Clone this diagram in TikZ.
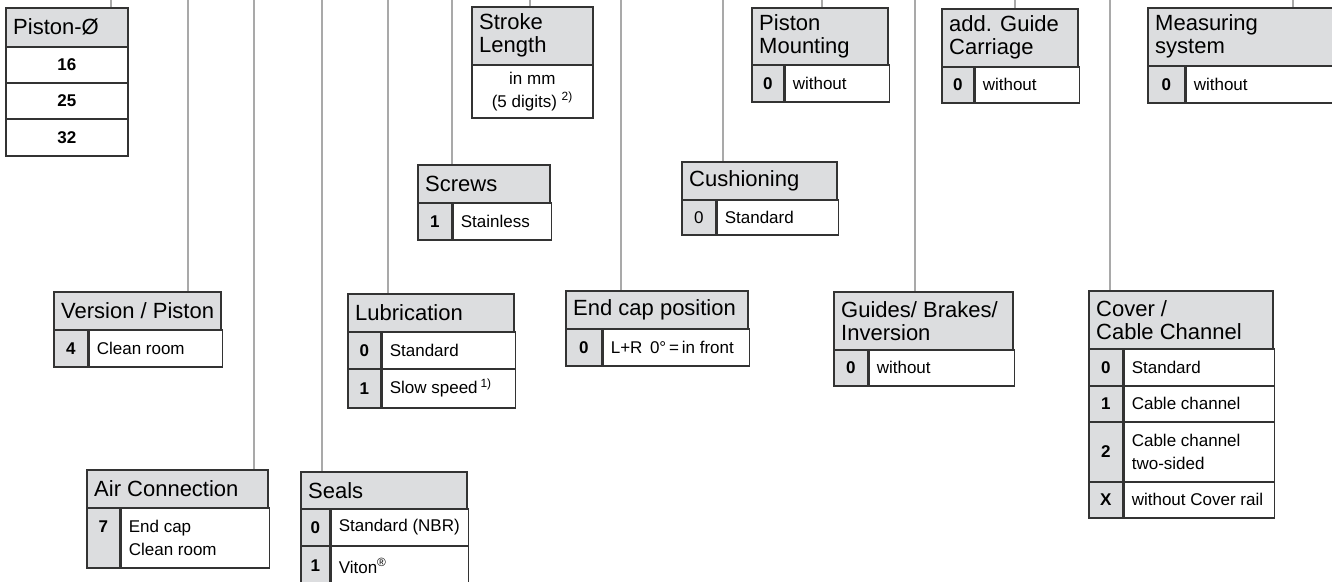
\documentclass[tikz,border=0pt]{standalone}
\usepackage{fontspec}
\setmainfont{Liberation Sans}
\usetikzlibrary{backgrounds}
\definecolor{hgray}{HTML}{DCDDDF}
\definecolor{bord}{HTML}{333333}
\definecolor{linegray}{HTML}{A9A9A9}
\newcommand\hdrfont{\fontsize{22}{23}\selectfont}
\newcommand\bodyfont{\fontsize{17}{23}\selectfont}
\tikzset{
  conn/.style={draw=linegray, line width=2.4pt},
  hdr/.style={rectangle, draw=bord, fill=hgray, line width=1.6pt, anchor=north west, inner sep=0pt},
  numc/.style={rectangle, draw=bord, fill=hgray, line width=1.6pt, anchor=north west, inner sep=0pt, font=\bodyfont\bfseries},
  txtc/.style={rectangle, draw=bord, fill=white, line width=1.6pt, anchor=north west, inner sep=0pt},
  htxt/.style={anchor=west, inner sep=0pt, font=\hdrfont, align=left},
  btxt/.style={anchor=west, inner sep=0pt, font=\bodyfont, align=left},
}
% header: name, x, y, w, h, text
\newcommand\HD[6]{%
  \node[hdr, minimum width=#4pt, minimum height=#5pt] (#1) at (#2,#3) {};
  \node[htxt] (#1l) at ([xshift=8pt]#1.west) {#6};}
% row: name, x, y, numw, textw, h, number, text
\newcommand\RW[8]{%
  \node[numc, minimum width=#4pt, minimum height=#6pt] (#1n) at (#2,#3) {#7};
  \node[txtc, minimum width=#5pt, minimum height=#6pt] (#1t) at (#1n.north east) {};
  \node[btxt] (#1l) at ([xshift=8pt]#1t.west) {#8};}
\begin{document}
\begin{tikzpicture}[x=1pt, y=-1pt]
\useasboundingbox (0,0) rectangle (1332,581);

% Piston diameter
\HD{pd}{5}{7}{122}{39}{Piston-Ø}
\node[txtc, minimum width=122pt, minimum height=36pt, font=\bodyfont\bfseries] (pd1) at (5,46) {16};
\node[txtc, minimum width=122pt, minimum height=36pt, font=\bodyfont\bfseries] (pd2) at (5,82) {25};
\node[txtc, minimum width=122pt, minimum height=37pt, font=\bodyfont\bfseries] (pd3) at (5,118) {32};

% Version / Piston
\HD{vp}{53}{291}{167}{38}{Version / Piston}
\RW{vpa}{53}{329}{34}{133}{37}{4}{Clean room}

% Air Connection
\HD{ac}{86}{469}{181}{38}{Air Connection}
\RW{aca}{86}{507}{33}{148}{60}{}{End cap\\Clean room}
\node[anchor=base, inner sep=0pt, font=\bodyfont\bfseries] (acnum) at ([yshift=-25pt]acan.north) {7};

% Seals
\HD{se}{300}{471}{166}{37}{Seals}
\RW{sea}{300}{508}{29}{137}{37}{0}{Standard (NBR)}
\RW{seb}{300}{545}{29}{137}{40}{1}{Viton\textsuperscript{®}}

% Lubrication
\HD{lu}{347}{293}{166}{38}{Lubrication}
\RW{lua}{347}{331}{33}{133}{37}{0}{Standard}
\RW{lub}{347}{368}{33}{133}{39}{1}{Slow speed\,\textsuperscript{1)}}

% Screws
\HD{sc}{417}{164}{132}{38}{Screws}
\RW{sca}{417}{202}{34}{98}{37}{1}{Stainless}

% Stroke Length
\HD{sl}{471}{6}{121}{58}{Stroke\\Length}
\node[txtc, minimum width=121pt, minimum height=53pt] (slb) at (471,64) {};
\node[inner sep=0pt, font=\bodyfont, align=center] (slbl) at (slb.center) {in mm\\(5 digits) \textsuperscript{2)}};

% End cap position
\HD{ec}{565}{290}{182}{38}{End cap position}
\RW{eca}{565}{328}{36}{146}{37}{0}{L+R\, 0°\,=\,in front}

% Cushioning
\HD{cu}{681}{161}{155}{38}{Cushioning}
\RW{cua}{681}{199}{34}{121}{35}{\mdseries 0}{Standard}

% Piston Mounting
\HD{pm}{751}{7}{136}{57}{Piston\\Mounting}
\RW{pma}{751}{64}{32}{104}{37}{0}{without}

% Guides / Brakes / Inversion
\HD{gb}{833}{291}{179}{58}{Guides/ Brakes/\\Inversion}
\RW{gba}{833}{349}{34}{145}{36}{0}{without}

% add. Guide Carriage
\HD{ag}{941}{8}{136}{58}{add. Guide\\Carriage}
\RW{aga}{941}{66}{32}{104}{36}{0}{without}

% Cover / Cable Channel
\HD{cc}{1088}{290}{184}{58}{Cover /\\Cable Channel}
\RW{cca}{1088}{348}{34}{150}{37}{0}{Standard}
\RW{ccb}{1088}{385}{34}{150}{36}{1}{Cable channel}
\RW{ccc}{1088}{421}{34}{150}{60}{2}{Cable channel\\two-sided}
\RW{ccd}{1088}{481}{34}{150}{36}{X}{without Cover rail}

% Measuring system
\HD{ms}{1147}{7}{200}{58}{Measuring\\system}
\RW{msa}{1147}{65}{37}{163}{37}{0}{without}

% connectors
\coordinate (tpd) at (111,0);
\coordinate (tvp) at (188,0);
\coordinate (tac) at (254,0);
\coordinate (tse) at (322,0);
\coordinate (tlu) at (388,0);
\coordinate (tsc) at (452,0);
\coordinate (tsl) at (530,0);
\coordinate (tec) at (621,0);
\coordinate (tcu) at (723,0);
\coordinate (tpm) at (822,0);
\coordinate (tgb) at (915,0);
\coordinate (tag) at (1015,0);
\coordinate (tcc) at (1110,0);
\coordinate (tms) at (1293,0);
\begin{pgfonlayer}{background}
\fill[white] (0,0) rectangle (1332,581);
\foreach \n in {pd,vp,ac,se,lu,sc,sl,ec,cu,pm,gb,ag,cc,ms}
  \draw[conn] (t\n) -- (t\n |- \n.north);
\end{pgfonlayer}
\end{tikzpicture}
\end{document}
